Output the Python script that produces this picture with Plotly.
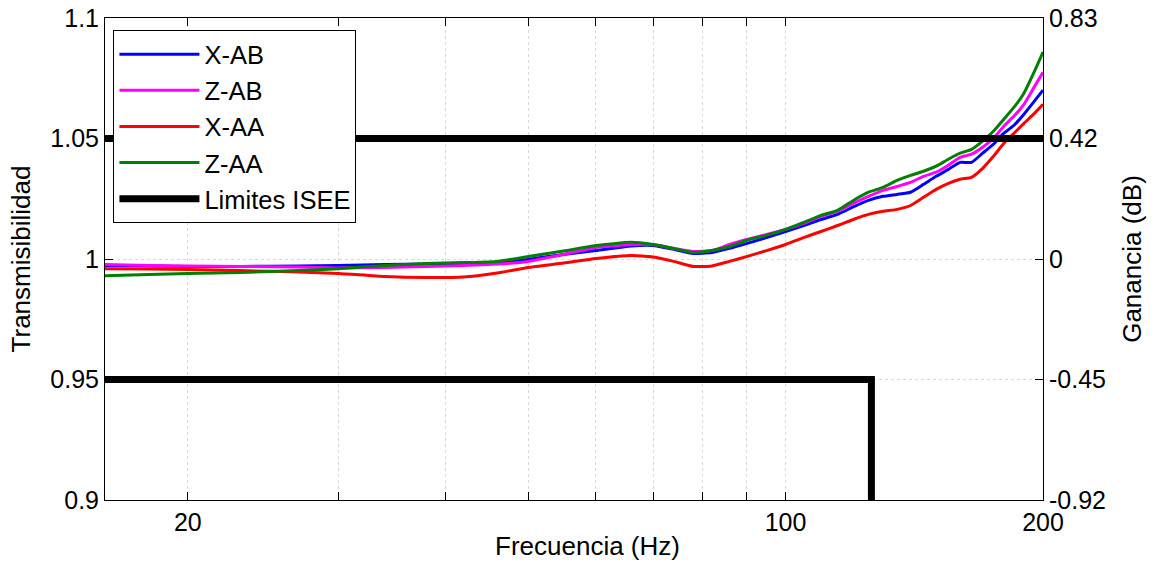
import math
import plotly.graph_objects as go

freq = [16, 18, 20, 23, 27, 30, 34, 38, 42, 46, 50, 55, 60, 66, 70, 74, 78, 82, 86, 90, 95,
        100, 105, 110, 115, 120, 125, 130, 135, 140, 145, 150, 155, 160, 165, 170, 175,
        180, 185, 190, 195, 200]

x_ab = [0.9973, 0.9971, 0.9969, 0.9969, 0.9971, 0.9973, 0.9977, 0.9979, 0.9981, 0.9985, 0.9998,
        1.0019, 1.0035, 1.0054, 1.0056, 1.0040, 1.0023, 1.0027, 1.0044, 1.0064, 1.0089,
        1.0114, 1.0139, 1.0164, 1.0185, 1.0216, 1.0243, 1.0260, 1.0268, 1.0277, 1.0310,
        1.0343, 1.0372, 1.0401, 1.0401, 1.0439, 1.0476, 1.0522, 1.0555, 1.0601, 1.0651, 1.0701]

z_ab = [0.9977, 0.9973, 0.9971, 0.9969, 0.9967, 0.9963, 0.9965, 0.9969, 0.9973, 0.9979, 0.9990,
        1.0019, 1.0048, 1.0060, 1.0060, 1.0044, 1.0031, 1.0035, 1.0060, 1.0081, 1.0102,
        1.0123, 1.0148, 1.0177, 1.0198, 1.0231, 1.0260, 1.0285, 1.0301, 1.0318, 1.0343,
        1.0360, 1.0389, 1.0422, 1.0435, 1.0464, 1.0501, 1.0551, 1.0593, 1.0642, 1.0709, 1.0775]

x_aa = [0.9960, 0.9958, 0.9956, 0.9952, 0.9946, 0.9940, 0.9927, 0.9923, 0.9925, 0.9942, 0.9965,
        0.9983, 1.0002, 1.0015, 1.0008, 0.9990, 0.9969, 0.9971, 0.9990, 1.0010, 1.0035,
        1.0060, 1.0089, 1.0114, 1.0139, 1.0164, 1.0185, 1.0198, 1.0206, 1.0222, 1.0256,
        1.0289, 1.0314, 1.0331, 1.0339, 1.0376, 1.0426, 1.0480, 1.0522, 1.0563, 1.0601, 1.0642]

z_aa = [0.9931, 0.9936, 0.9940, 0.9944, 0.9952, 0.9960, 0.9973, 0.9981, 0.9985, 0.9990, 1.0010,
        1.0033, 1.0056, 1.0069, 1.0060, 1.0044, 1.0027, 1.0035, 1.0052, 1.0077, 1.0098,
        1.0123, 1.0152, 1.0181, 1.0202, 1.0243, 1.0277, 1.0297, 1.0326, 1.0347, 1.0364,
        1.0385, 1.0414, 1.0439, 1.0455, 1.0489, 1.0530, 1.0580, 1.0630, 1.0688, 1.0771, 1.0859]

upper_x = [16, 200]
upper_y = [1.05, 1.05]
lower_x = [16, 126, 126]
lower_y = [0.95, 0.95, 0.88]

x_tickvals = [20, 30, 40, 50, 60, 70, 80, 90, 100, 200]
x_ticktext = ["20", "", "", "", "", "", "", "", "100", "200"]
y_tickvals = [0.9, 0.95, 1.0, 1.05, 1.1]
y_ticktext = ["0.9", "0.95", "1", "1.05", "1.1"]
y2_ticktext = ["%.2f" % (20 * math.log10(v)) if abs(v - 1) > 1e-9 else "0" for v in y_tickvals]

FONT = "Liberation Sans, Arial, sans-serif"
FS = 25
TFS = 26
LFS = 25.5
GRID = "#d9d9d9"

fig = go.Figure()
series = [("X-AB", x_ab, "#0000ff"), ("Z-AB", z_ab, "#ff00ff"),
          ("X-AA", x_aa, "#ff0000"), ("Z-AA", z_aa, "#008000")]
for name, vals, col in series:
    fig.add_trace(go.Scatter(x=freq, y=vals, mode="lines", name=name,
                             line=dict(color=col, width=3, shape="spline", smoothing=0.5)))

fig.add_trace(go.Scatter(x=upper_x, y=upper_y, mode="lines", name="Limites ISEE",
                         legendgroup="lim", line=dict(color="black", width=7)))
fig.add_trace(go.Scatter(x=lower_x, y=lower_y, mode="lines", name="Limites ISEE",
                         legendgroup="lim", showlegend=False,
                         line=dict(color="black", width=7)))
# invisible trace for the right axis
fig.add_trace(go.Scatter(x=upper_x, y=upper_y, yaxis="y2", mode="lines", showlegend=False,
                         hoverinfo="skip", line=dict(color="rgba(0,0,0,0)", width=0)))

fig.update_layout(
    width=1159, height=563,
    margin=dict(l=105, r=116, t=18, b=63),
    paper_bgcolor="white", plot_bgcolor="white",
    font=dict(family=FONT, size=FS, color="black"),
    showlegend=True,
    legend=dict(x=0.009, y=0.975, xanchor="left", yanchor="top",
                bgcolor="white", bordercolor="black", borderwidth=1,
                font=dict(family=FONT, size=LFS, color="black"),
                tracegroupgap=0, itemwidth=80),
    xaxis=dict(type="log", range=[math.log10(16), math.log10(200)],
               tickvals=x_tickvals, ticktext=x_ticktext,
               ticks="inside", ticklen=8, tickcolor="black",
               showline=True, linecolor="black", linewidth=1, mirror="ticks",
               showgrid=True, gridcolor=GRID, griddash="dot", gridwidth=1,
               tickfont=dict(family=FONT, size=FS, color="black"),
               automargin=False, ticklabeloverflow="allow",
               zeroline=False),
    yaxis=dict(range=[0.9, 1.1], tickvals=y_tickvals, ticktext=y_ticktext,
               ticks="inside", ticklen=8, tickcolor="black",
               showline=True, linecolor="black", linewidth=1, mirror=True,
               showgrid=True, gridcolor=GRID, griddash="dot", gridwidth=1,
               tickfont=dict(family=FONT, size=FS, color="black"),
               automargin=False, ticklabeloverflow="allow",
               title=dict(text="Transmisibilidad", standoff=12,
                          font=dict(family=FONT, size=TFS, color="black")),
               zeroline=False),
    yaxis2=dict(range=[0.9, 1.1], overlaying="y", side="right",
                tickvals=y_tickvals, ticktext=y2_ticktext,
                ticks="inside", ticklen=8, tickcolor="black",
                showline=True, linecolor="black", linewidth=1,
                showgrid=False, zeroline=False, automargin=False,
                ticklabeloverflow="allow",
                tickfont=dict(family=FONT, size=FS, color="black"),
                title=dict(text="Ganancia (dB)", standoff=17,
                           font=dict(family=FONT, size=TFS, color="black"))),
    annotations=[dict(text="Frecuencia (Hz)", xref="paper", yref="paper",
                      x=0.514, y=0, xanchor="center", yanchor="middle",
                      yshift=-46, showarrow=False,
                      font=dict(family=FONT, size=TFS, color="black"))],
)

# remove the browser's default 8 px body margin so the figure fills the window
fig.write_html("out.html", config={"displayModeBar": False},
               post_script="document.body.style.margin='0';")
